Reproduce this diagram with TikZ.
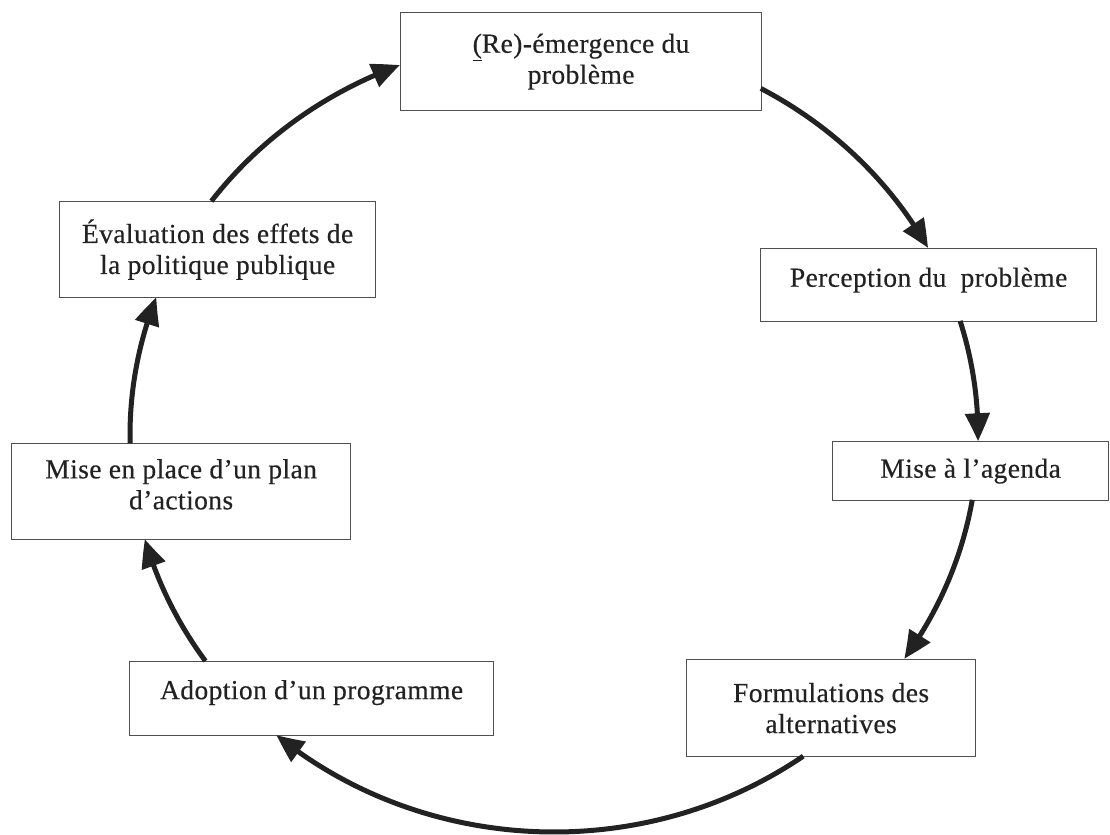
\documentclass[tikz,border=0pt]{standalone}
\usepackage{fontspec}
\setmainfont{Liberation Serif}[LetterSpace=1.5,FakeBold=0.4]
\usetikzlibrary{arrows.meta,bending,calc}
\definecolor{ink}{HTML}{222222}
\definecolor{frame}{HTML}{505050}
\begin{document}
\begin{tikzpicture}[x=1bp,y=1bp,yscale=-1,
  stage/.style={draw=frame, line width=1.2bp, fill=white, anchor=north west,
    inner sep=0pt, align=center, text=ink,
    font=\fontsize{27.5bp}{31bp}\selectfont},
  cyc/.style={draw=ink, line width=5bp,
    -{Triangle[length=28bp,width=24bp,bend]}},
  ring/.style={x radius=424, y radius=397},
]
\useasboundingbox (0,0) rectangle (1110,835);

% the seven stages of the cycle
\node[stage, minimum width=361bp, minimum height=98bp] (emerg) at (400,12)
  {\underline{(}Re)-émergence du\\problème};
\node[stage, minimum width=336bp, minimum height=73bp] (percep) at (760,248)
  {\raisebox{5bp}[\height][\depth]{Perception du\hspace{0.25em} problème}};
\node[stage, minimum width=276bp, minimum height=59bp] (agenda) at (832,441)
  {Mise à l’agenda};
\node[stage, minimum width=289bp, minimum height=97bp] (formul) at (686,659)
  {Formulations des\\alternatives};
\node[stage, minimum width=364bp, minimum height=74bp] (adopt) at (129,661)
  {\raisebox{6bp}[\height][\depth]{Adoption d’un programme}};
\node[stage, minimum width=339bp, minimum height=96bp] (plan) at (11,443)
  {\raisebox{4bp}[\height][\depth]{\begin{tabular}{@{}c@{}}Mise en place d’un plan\\d’actions\end{tabular}}};
\node[stage, minimum width=316bp, minimum height=96bp] (eval) at (59,201)
  {Évaluation des effets de\\la politique publique};

% the ring on which every connector runs
\coordinate (ctr) at (554,435);
\coordinate (evalT)   at ($(ctr)+(216.1:424 and 397)$);
\coordinate (emergR)  at ($(ctr)+(299.2:424 and 397)$);
\coordinate (percepB) at ($(ctr)+(343.3:424 and 397)$);
\coordinate (agendaB) at ($(ctr)+(369.4:424 and 397)$);
\coordinate (formulB) at ($(ctr)+(54.0:424 and 397)$);
\coordinate (adoptT)  at ($(ctr)+(145.3:424 and 397)$);
\coordinate (planT)   at ($(ctr)+(178.8:424 and 397)$);

\draw[cyc] (evalT)   arc[ring, start angle=216.1, end angle=248.7];
\draw[cyc] (emergR)  arc[ring, start angle=299.2, end angle=331.9];
\draw[cyc] (percepB) arc[ring, start angle=343.3, end angle=360.9];
\draw[cyc] (agendaB) arc[ring, start angle=369.4, end angle=394.3];
\draw[cyc] (formulB) arc[ring, start angle=54.0,  end angle=130.9];
\draw[cyc] (adoptT)  arc[ring, start angle=145.3, end angle=164.8];
\draw[cyc] (planT)   arc[ring, start angle=178.8, end angle=200.3];
\end{tikzpicture}
\end{document}
